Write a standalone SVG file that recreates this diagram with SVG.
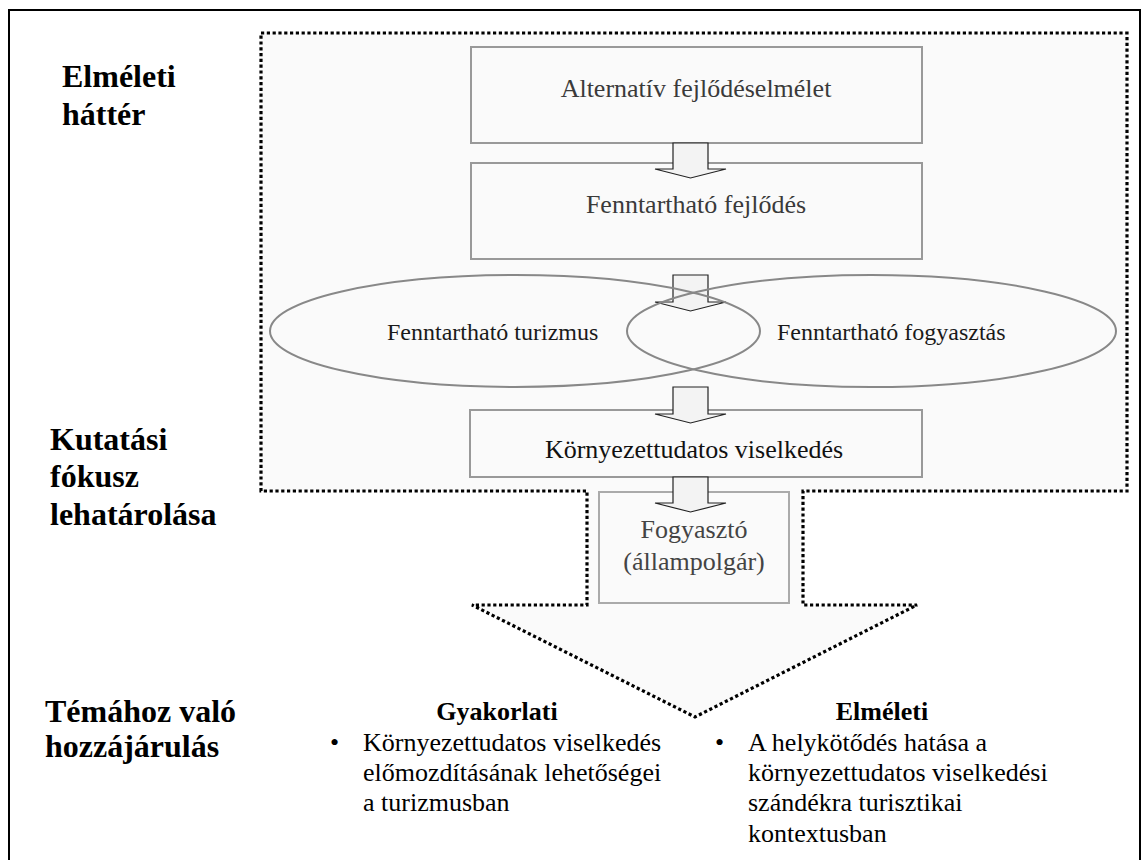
<svg xmlns="http://www.w3.org/2000/svg" width="1141" height="860" viewBox="0 0 1141 860">
<style>
text{font-family:"Liberation Serif","Times New Roman",serif}
.lbl{font-size:32px;font-weight:bold;fill:#000}
.box{fill:#fafafa;stroke:#999;stroke-width:2}
.bt{font-size:26px;fill:#3a3a3a;text-anchor:middle}
.el{fill:none;stroke:#888;stroke-width:2}
.et{font-size:24px;fill:#1a1a1a}
.arr{fill:#f3f3f3;stroke:#222;stroke-width:1.2;stroke-linejoin:miter}
.body{font-size:26px;fill:#000}
.hd{font-size:26px;font-weight:bold;fill:#000;text-anchor:middle}
</style>
<rect width="1141" height="860" fill="#fff"/>
<g id="frame"><rect x="9" y="10" width="1131" height="900" fill="none" stroke="#000" stroke-width="2"/></g>
<g id="focus-region"><path d="M261,33 H1127 V491 H803 V605 H917 L695,717 L472,605 H587 V491 H261 Z" fill="#fafafa" stroke="#000" stroke-width="3.2" stroke-dasharray="3.2 2.6"/></g>
<g id="labels">
<text class="lbl" x="62" y="87">Elméleti</text>
<text class="lbl" x="62" y="125">háttér</text>
<text class="lbl" x="50" y="450">Kutatási</text>
<text class="lbl" x="50" y="487">fókusz</text>
<text class="lbl" x="50" y="525">lehatárolása</text>
<text class="lbl" x="45" y="722">Témához való</text>
<text class="lbl" x="45" y="757">hozzájárulás</text>
</g>
<g id="n-alternativ"><rect class="box" x="471" y="47" width="451" height="96"/><text class="bt" x="696" y="97">Alternatív fejlődéselmélet</text></g>
<g id="n-fenntarthato-fejlodes"><rect class="box" x="471" y="163" width="451" height="96"/><text class="bt" x="696" y="213">Fenntartható fejlődés</text></g>
<g id="n-kornyezettudatos"><rect class="box" x="470" y="410" width="452" height="67"/><text class="bt" x="694" y="458" style="fill:#111">Környezettudatos viselkedés</text></g>
<g id="n-fogyaszto"><rect class="box" x="599" y="492" width="190" height="111" style="stroke:#aaa"/><text class="bt" x="694" y="538" style="fill:#444">Fogyasztó</text><text class="bt" x="694" y="570" style="fill:#444">(állampolgár)</text></g>
<g id="connectors">
<path class="arr" d="M673,143 H708 V169 H726 L690.5,178 L655,169 H673 Z"/>
<path class="arr" d="M673,275 H708 V302 H726 L690.5,311 L655,302 H673 Z"/>
<path class="arr" d="M673,387 H708 V414 H726 L690.5,423 L655,414 H673 Z"/>
<path class="arr" d="M673,477 H708 V503 H726 L690.5,512 L655,503 H673 Z"/>
</g>
<g id="n-turizmus"><ellipse class="el" cx="515" cy="331" rx="245" ry="56"/><text class="et" x="387" y="340">Fenntartható turizmus</text></g>
<g id="n-fogyasztas"><ellipse class="el" cx="871.5" cy="331" rx="244.5" ry="56"/><text class="et" x="777" y="340">Fenntartható fogyasztás</text></g>
<g id="gyakorlati">
<text class="hd" x="497" y="720">Gyakorlati</text>
<text class="body" x="330" y="751">•</text>
<text class="body" x="363" y="751">Környezettudatos viselkedés</text>
<text class="body" x="363" y="781">előmozdításának lehetőségei</text>
<text class="body" x="363" y="811">a turizmusban</text>
</g>
<g id="elmeleti">
<text class="hd" x="882" y="720">Elméleti</text>
<text class="body" x="715" y="751">•</text>
<text class="body" x="748" y="751">A helykötődés hatása a</text>
<text class="body" x="748" y="781">környezettudatos viselkedési</text>
<text class="body" x="748" y="811">szándékra turisztikai</text>
<text class="body" x="748" y="842">kontextusban</text>
</g>
</svg>
